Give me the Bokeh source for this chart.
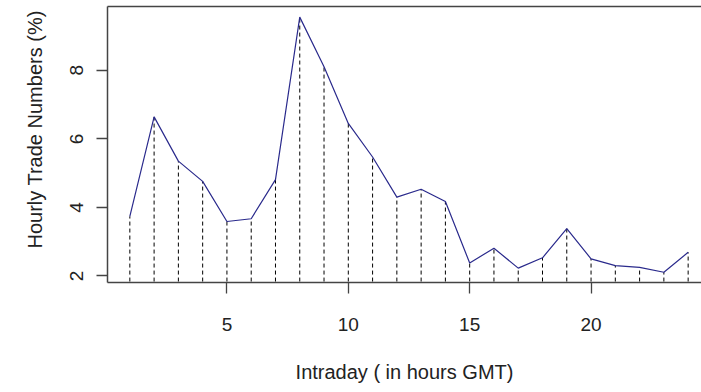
from bokeh.plotting import figure
from bokeh.models import Range1d, LinearAxis, FixedTicker, Title
from bokeh.embed import file_html
from bokeh.resources import INLINE

hours = list(range(1, 25))
trade_pct = [3.74, 6.64, 5.35, 4.76, 3.59, 3.67, 4.81, 9.55, 8.10, 6.45, 5.47, 4.30,
             4.53, 4.17, 2.38, 2.81, 2.23, 2.53, 3.38, 2.50, 2.30, 2.25, 2.11, 2.69]
x_ticks = [5, 10, 15, 20]
y_ticks = [2, 4, 6, 8]
x_title = "Intraday ( in hours GMT)"
y_title = "Hourly Trade Numbers (%)"

FONT = "Liberation Sans"
TXT = "#222222"
BOX = "#444444"

p = figure(width=701, height=392, output_backend="svg", toolbar_location=None,
           x_range=Range1d(0.08, 24.55), y_range=Range1d(1.81, 9.86),
           min_border_left=107, min_border_right=0, min_border_top=6,
           min_border_bottom=110)
p.outline_line_color = None
p.grid.visible = False
p.background_fill_color = "white"
p.border_fill_color = "white"

p.segment(x0=hours, y0=[0] * len(hours), x1=hours, y1=trade_pct,
          line_color="black", line_width=1, line_dash="4 3")
p.line(hours, trade_pct, line_color="#2a2a8c", line_width=1.2)

xa = p.xaxis[0]
xa.ticker = FixedTicker(ticks=x_ticks)
ya = p.yaxis[0]
ya.ticker = FixedTicker(ticks=y_ticks)
for ax in (xa, ya):
    ax.major_tick_out = 11
    ax.major_tick_in = 0
    ax.minor_tick_out = 0
    ax.minor_tick_in = 0
    ax.major_tick_line_color = BOX
    ax.major_tick_line_width = 1.3
    ax.axis_line_color = BOX
    ax.axis_line_width = 1.5
    ax.major_label_text_font = FONT
    ax.major_label_text_font_size = "19px"
    ax.major_label_text_color = TXT
xa.major_label_standoff = 24
xa.axis_label = x_title
xa.axis_label_text_font = FONT
xa.axis_label_text_font_size = "20px"
xa.axis_label_text_font_style = "normal"
xa.axis_label_text_color = TXT
xa.axis_label_standoff = 27
ya.major_label_orientation = "vertical"
ya.major_label_standoff = 13

top = LinearAxis(ticker=FixedTicker(ticks=[]), major_tick_out=0, major_tick_in=0,
                 minor_tick_out=0, minor_tick_in=0, major_label_standoff=0,
                 major_label_text_font_size="0px", axis_line_color=BOX,
                 axis_line_width=1.5)
p.add_layout(top, "above")

p.add_layout(Title(text=y_title, align="left", offset=34, standoff=43,
                   text_font=FONT, text_font_size="20px", text_font_style="normal",
                   text_color=TXT), "left")

open("out.html", "w").write(file_html(p, INLINE))
